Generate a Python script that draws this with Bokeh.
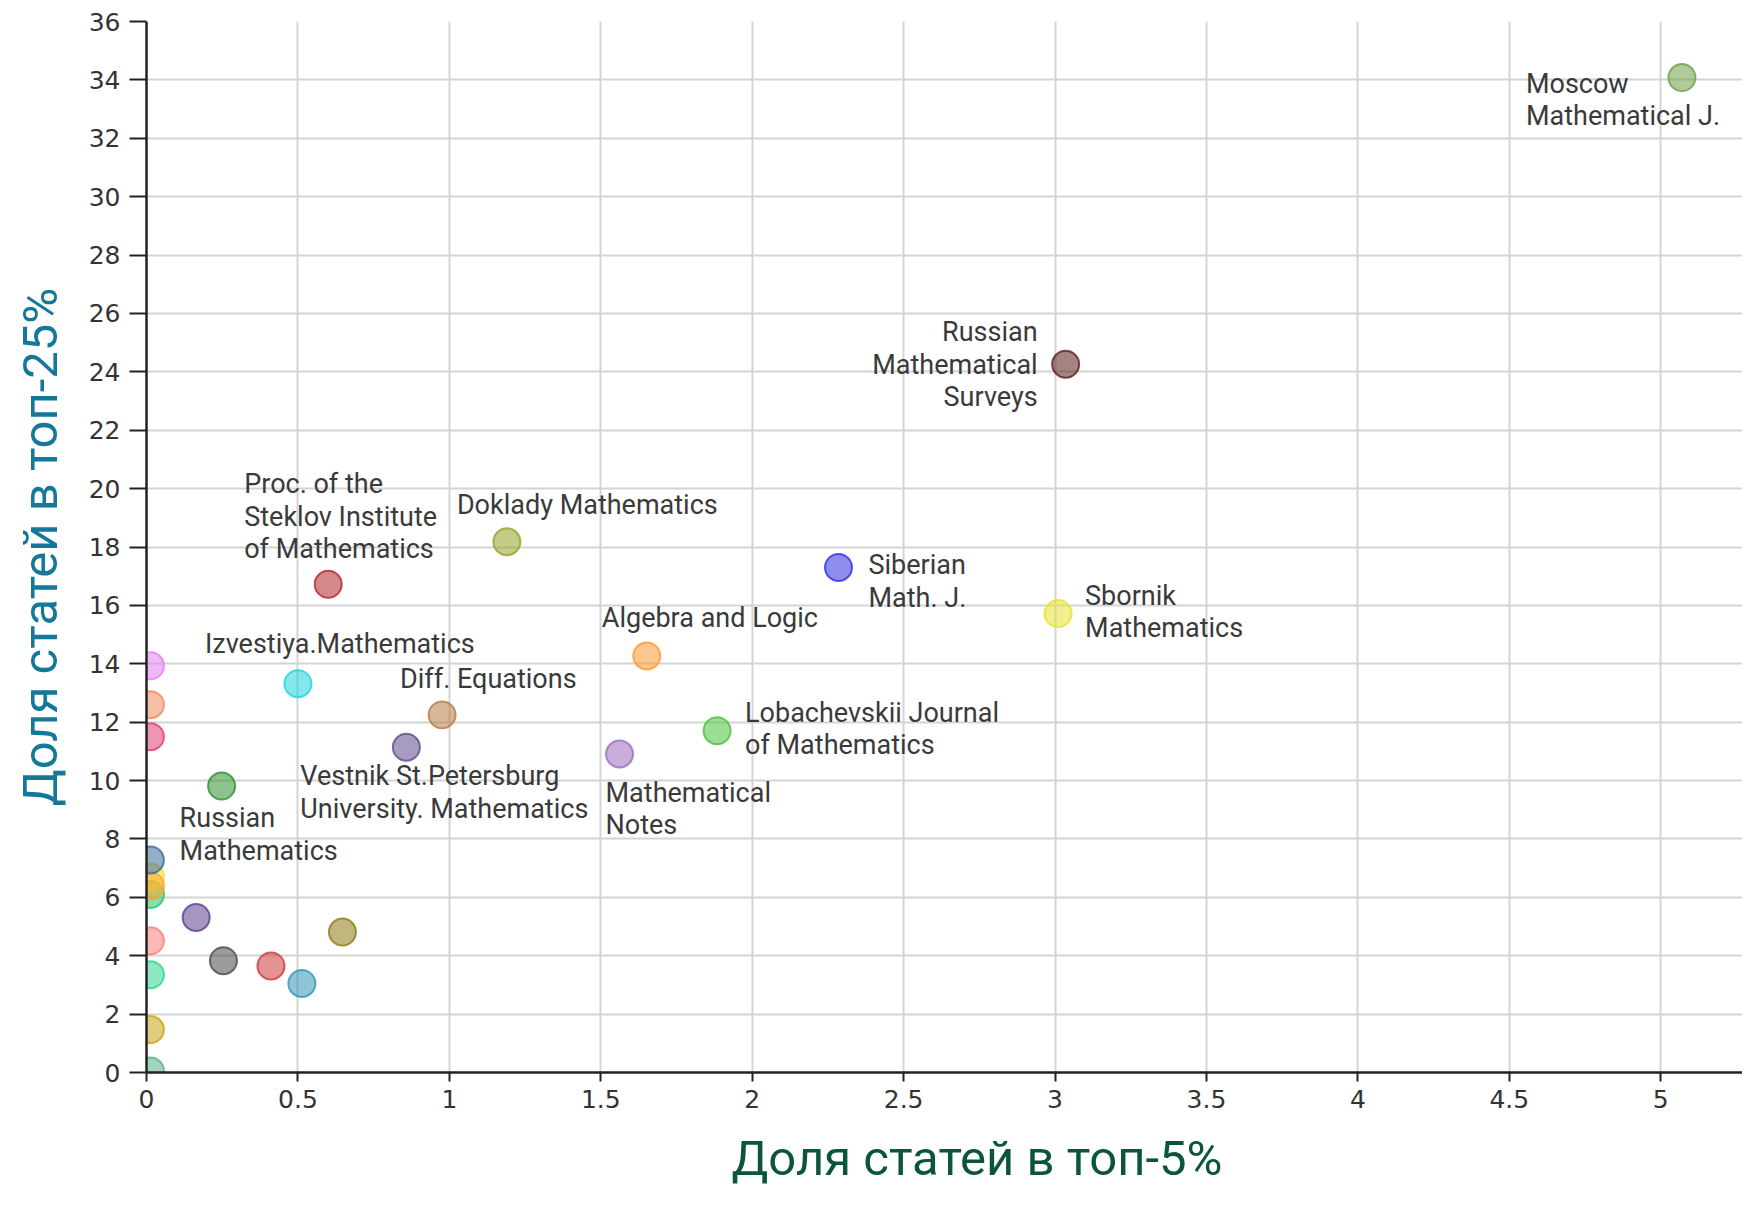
from bokeh.plotting import figure
from bokeh.models import Range1d, FixedTicker, Title
from bokeh.core.properties import value
from bokeh.embed import file_html
from bokeh.resources import INLINE

# ---- data ----
journals = [
    "Moscow Mathematical J.", "Russian Mathematical Surveys", "Doklady Mathematics",
    "Siberian Math. J.", "Proc. of the Steklov Institute of Mathematics",
    "Sbornik Mathematics", "Algebra and Logic", "Izvestiya.Mathematics",
    "Diff. Equations", "Lobachevskii Journal of Mathematics",
    "Vestnik St.Petersburg University. Mathematics", "Mathematical Notes",
    "Russian Mathematics",
    "j14", "j15", "j16", "j17", "j18", "j19", "j20", "j21", "j22", "j23", "j24",
    "j25", "j26", "j27", "j28", "j29",
]
top5 = [5.07, 3.035, 1.19, 2.285, 0.60, 3.01, 1.652, 0.50, 0.976, 1.884, 0.858, 1.562, 0.248,
        0.013, 0.013, 0.013, 0.013, 0.013, 0.013, 0.013, 0.013, 0.013, 0.013, 0.013,
        0.164, 0.254, 0.411, 0.513, 0.647]
top25 = [34.08, 24.26, 18.18, 17.3, 16.72, 15.72, 14.27, 13.32, 12.25, 11.71, 11.14, 10.91, 9.81,
         13.93, 12.6, 11.5, 6.1, 6.7, 6.4, 7.28, 4.51, 3.35, 1.47, 0.05,
         5.31, 3.83, 3.65, 3.05, 4.81]
colors = ["#6f9e45", "#5c1e1e", "#93a324", "#2f2fe0", "#b3262a",
          "#e3e332", "#ff9830", "#1ed4dc", "#b77a45", "#48c23c",
          "#5e4a8c", "#9c6cbd", "#2f8f2f",
          "#e47ef2", "#f08a5a", "#e03c78", "#22c76a", "#f5d933", "#ffa62b", "#3c6a9a",
          "#ff7d7d", "#2fd58a", "#c9a413", "#57b08c",
          "#5a3f8e", "#4a4a4a", "#cc3a3a", "#3196b8", "#8c7a14"]

# label lines, alignment and offsets (px) of each labelled journal
label_lines = [
    ["Moscow", "Mathematical J."],
    ["Russian", "Mathematical", "Surveys"],
    ["Doklady Mathematics"],
    ["Siberian", "Math. J."],
    ["Proc. of the", "Steklov Institute", "of Mathematics"],
    ["Sbornik", "Mathematics"],
    ["Algebra and Logic"],
    ["Izvestiya.Mathematics"],
    ["Diff. Equations"],
    ["Lobachevskii Journal", "of Mathematics"],
    ["Vestnik St.Petersburg", "University. Mathematics"],
    ["Mathematical", "Notes"],
    ["Russian", "Mathematics"],
]
label_align = ["left", "right", "left", "left", "left", "left", "left", "left", "left",
               "left", "left", "left", "left"]
label_dx = [-156, -28, -50, 30, -84, 27, -45, -93, -42, 28, -106, -14, -42]
label_dy = [6, -32, -37, -2, -100, -18, -38, -40, -36, -18, 29, 39, 32]

x_ticks = [0, 0.5, 1, 1.5, 2, 2.5, 3, 3.5, 4, 4.5, 5]
x_tick_labels = ["0", "0.5", "1", "1.5", "2", "2.5", "3", "3.5", "4", "4.5", "5"]
y_ticks = list(range(0, 37, 2))
y_tick_labels = [str(v) for v in y_ticks]

x_title = "Доля статей в топ-5%"
y_title = "Доля статей в топ-25%"

# ---- figure ----
W, H = 1742, 1205
LEFT, TOP, BOTTOM = 146, 21, 133
p = figure(width=W, height=H, output_backend="svg", toolbar_location=None,
           x_range=Range1d(0, 5.27), y_range=Range1d(0, 36),
           min_border_left=LEFT, min_border_right=0, min_border_top=TOP,
           min_border_bottom=BOTTOM)
p.outline_line_color = None
p.background_fill_color = "white"

for g in (p.xgrid, p.ygrid):
    g.grid_line_color = "#d4d4d4"
    g.grid_line_width = 2

p.xaxis.ticker = FixedTicker(ticks=x_ticks)
p.yaxis.ticker = FixedTicker(ticks=y_ticks)
p.xaxis.major_label_overrides = {t: l for t, l in zip(x_ticks, x_tick_labels)}
p.yaxis.major_label_overrides = {t: l for t, l in zip(y_ticks, y_tick_labels)}

for ax in (p.xaxis, p.yaxis):
    ax.axis_line_color = "#222222"
    ax.axis_line_width = 2.5
    ax.major_tick_line_color = "#222222"
    ax.major_tick_line_width = 2
    ax.major_tick_in = 0
    ax.minor_tick_line_color = None
    ax.major_label_text_font = "DejaVu Sans"
    ax.major_label_text_font_size = "25px"
    ax.major_label_text_color = "#333333"
    ax.axis_label_text_font = "Roboto"
    ax.axis_label_text_font_style = "normal"

p.yaxis.major_tick_out = 17
p.yaxis.major_label_standoff = 9
p.xaxis.major_tick_out = 9
p.xaxis.major_label_standoff = 8

# x title: in the original it is centred on a plot area wider than the window,
# so it is placed as a left-aligned title offset from the frame's left edge
p.add_layout(Title(text=x_title, align="left", offset=585, vertical_align="bottom",
                   standoff=34, text_font="Roboto", text_font_size="49px",
                   text_font_style="normal", text_color="#0b5538"), "below")

p.yaxis.axis_label = y_title
p.yaxis.axis_label_text_color = "#13789a"
p.yaxis.axis_label_text_font_size = "49px"
p.yaxis.axis_label_standoff = 17

# ---- points ----
p.scatter(x=top5, y=top25, size=27, fill_color=colors, fill_alpha=0.55,
          line_color=colors, line_alpha=0.8, line_width=2)

# ---- labels ----
line_h = 32.4
for i, lines in enumerate(label_lines):
    for k, line in enumerate(lines):
        p.text(x=[top5[i]], y=[top25[i]], text=[line],
               x_offset=label_dx[i], y_offset=label_dy[i] + k * line_h,
               text_align=label_align[i], text_baseline="middle",
               text_font=value("Roboto"), text_font_size="27px",
               text_color="#3a3a3a")

open("out.html", "w").write(file_html(p, INLINE))
